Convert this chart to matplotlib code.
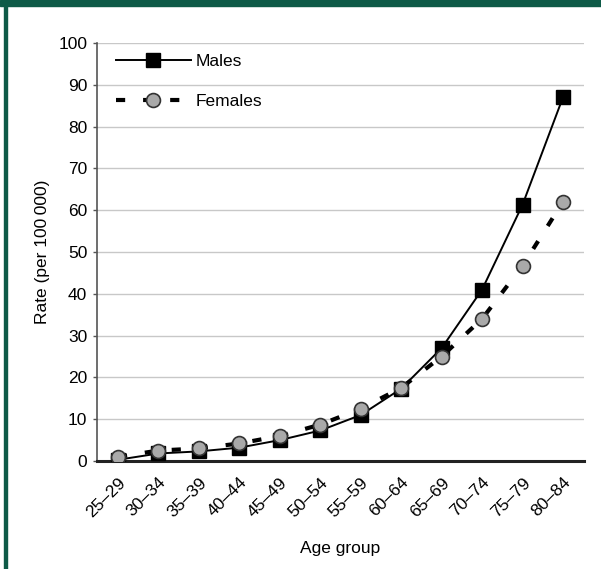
import matplotlib
matplotlib.use("Agg")
import matplotlib.pyplot as plt
from matplotlib.patches import Rectangle

plt.rcParams['font.family'] = ['Liberation Sans', 'DejaVu Sans']

age_groups = ["25–29", "30–34", "35–39", "40–44", "45–49", "50–54",
              "55–59", "60–64", "65–69", "70–74", "75–79", "80–84"]
males = [0.3, 1.8, 2.3, 3.2, 5.0, 7.3, 11.0, 17.3, 27.0, 41.0, 61.3, 87.0]
females = [1.0, 2.5, 3.0, 4.2, 6.0, 8.7, 12.5, 17.5, 25.0, 34.0, 46.7, 62.0]
y_ticks = [0, 10, 20, 30, 40, 50, 60, 70, 80, 90, 100]

FS = 12.5

fig = plt.figure(figsize=(6.01, 5.69), dpi=100)
ax = fig.add_axes([0.1614, 0.1898, 0.8103, 0.7346])

x = list(range(len(age_groups)))
ax.plot(x, females, color='black', linewidth=3.0, linestyle=(0, (2.2, 4.3)),
        marker='o', markersize=10, markerfacecolor='#a9a9a9',
        markeredgecolor='#333333', markeredgewidth=1.2, label='Females', zorder=4)
ax.plot(x, males, color='black', linewidth=1.4, marker='s', markersize=10,
        markerfacecolor='black', markeredgecolor='black', label='Males', zorder=3)

ax.set_xlim(-0.52, 11.52)
ax.set_ylim(0, 100)
ax.set_yticks(y_ticks)
ax.yaxis.grid(True, color='#c8c8c8', linewidth=1)
ax.set_axisbelow(True)
ax.set_xticks(x)
ax.set_xticklabels(age_groups, rotation=45, ha='right', rotation_mode='anchor',
                   fontsize=FS)
ax.tick_params(axis='x', length=0, pad=10)
ax.tick_params(axis='y', length=3, width=1, color='#555555', labelsize=FS, pad=4)

for s in ['top', 'right']:
    ax.spines[s].set_visible(False)
ax.spines['left'].set_color('#555555')
ax.spines['left'].set_linewidth(1.2)
ax.spines['bottom'].set_color('#222222')
ax.spines['bottom'].set_linewidth(2.2)

ax.set_xlabel('Age group', fontsize=FS, labelpad=15)
ax.set_ylabel('Rate (per 100\u2009000)', fontsize=FS, labelpad=6)

handles, labels = ax.get_legend_handles_labels()
leg = ax.legend([handles[1], handles[0]], [labels[1], labels[0]],
                loc='upper left', bbox_to_anchor=(0.039, 0.973), frameon=False,
                borderpad=0, borderaxespad=0,
                handlelength=4.3, handletextpad=0.3, labelspacing=1.43,
                fontsize=FS)

# frame of the page
green = '#0e5a47'
fig.patches.append(Rectangle((0, 1 - 6 / 569), 1, 6 / 569, transform=fig.transFigure,
                             color=green, zorder=10))
fig.patches.append(Rectangle((4 / 601, 0), 2.5 / 601, 1, transform=fig.transFigure,
                             color=green, zorder=10))

fig.savefig('out.png', dpi=100)
